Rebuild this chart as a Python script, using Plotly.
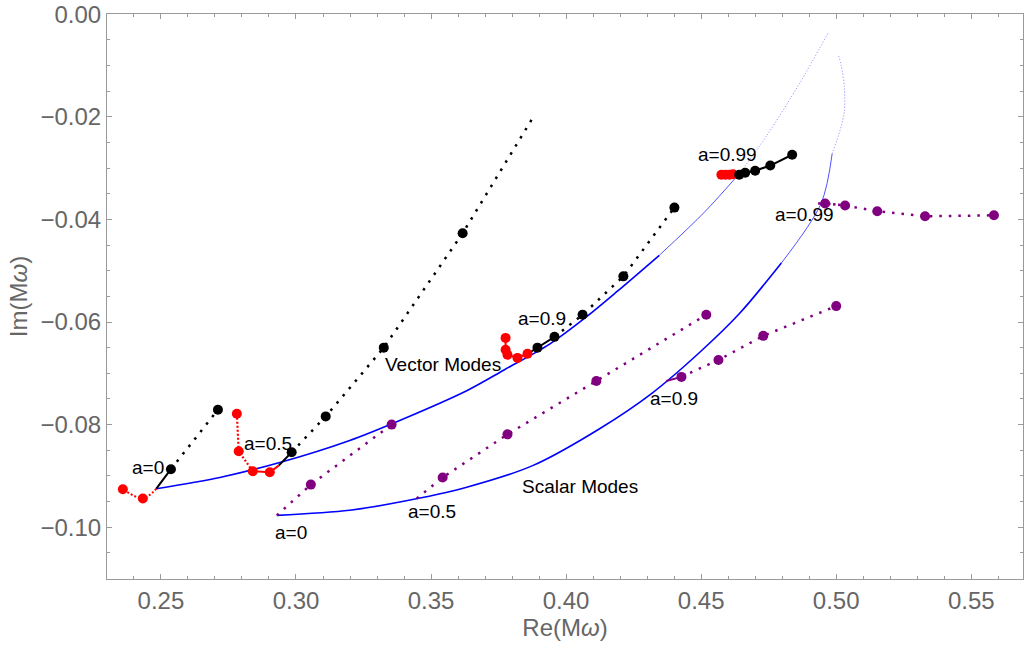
import plotly.graph_objects as go

# ---------------- data ----------------
# blue QNM trajectories (a from 0 towards 1)
vec_curve_re = [0.2483, 0.2718, 0.2940, 0.3199, 0.3384, 0.3632, 0.3772, 0.3939, 0.4075, 0.4190, 0.4345,
                0.4512, 0.4641, 0.4745, 0.4863, 0.4970]
vec_curve_im = [-0.0925, -0.0903, -0.0874, -0.0831, -0.0792, -0.0734, -0.0693, -0.0643, -0.0590, -0.0540, -0.0470,
                -0.0386, -0.0311, -0.0235, -0.0136, -0.0037]
sca_curve_re = [0.2929, 0.3199, 0.3384, 0.3632, 0.3876, 0.4124, 0.4320, 0.4493, 0.4641, 0.4797,
                0.4944, 0.4985, 0.5015, 0.5030, 0.5030, 0.5018, 0.5007]
sca_curve_im = [-0.0977, -0.0967, -0.0951, -0.0922, -0.0880, -0.0808, -0.0738, -0.0660, -0.0584, -0.0485,
                -0.0369, -0.0272, -0.0225, -0.0190, -0.0142, -0.0099, -0.0078]

# vector modes
v_a0_black_re = [0.2483, 0.2537, 0.2711]
v_a0_black_im = [-0.0925, -0.0887, -0.0771]
v_a0_red_re = [0.2483, 0.2433, 0.2359]
v_a0_red_im = [-0.0925, -0.0944, -0.0926]
v_a05_black_re = [0.2936, 0.2984, 0.3110, 0.3325, 0.3617, 0.3872]
v_a05_black_im = [-0.0880, -0.0854, -0.0784, -0.0650, -0.0427, -0.0206]
v_a05_red_re = [0.2936, 0.2903, 0.2840, 0.2788, 0.2781]
v_a05_red_im = [-0.0880, -0.0893, -0.0891, -0.0852, -0.0779]
v_a09_black_re = [0.3870, 0.3894, 0.3957, 0.4061, 0.4212, 0.4401]
v_a09_black_im = [-0.0658, -0.0650, -0.0629, -0.0586, -0.0511, -0.0377]
v_a09_red_re = [0.3870, 0.3857, 0.3820, 0.3783, 0.3776, 0.3776]
v_a09_red_im = [-0.0658, -0.0662, -0.0670, -0.0664, -0.0654, -0.0631]
v_a099_black_re = [0.4630, 0.4641, 0.4663, 0.4700, 0.4756, 0.4837]
v_a099_black_im = [-0.0312, -0.0313, -0.0309, -0.0305, -0.0295, -0.0274]
v_a099_red_re = [0.4630, 0.4618, 0.4605, 0.4590, 0.4575]
v_a099_red_im = [-0.0312, -0.0312, -0.0313, -0.0313, -0.0313]

# scalar modes
s_a0_re = [0.2929, 0.3055, 0.3354]
s_a0_im = [-0.0977, -0.0917, -0.0800]
s_a05_re = [0.3447, 0.3543, 0.3783, 0.4112, 0.4519]
s_a05_im = [-0.0944, -0.0903, -0.0819, -0.0715, -0.0586]
s_a09_re = [0.4371, 0.4427, 0.4564, 0.4730, 0.5000]
s_a09_im = [-0.0715, -0.0707, -0.0674, -0.0627, -0.0569]
s_a099_re = [0.4933, 0.4959, 0.5033, 0.5152, 0.5329, 0.5584]
s_a099_im = [-0.0369, -0.0369, -0.0373, -0.0384, -0.0394, -0.0392]

# labels
label_text = ["a=0", "a=0.5", "a=0.9", "a=0.99", "Vector Modes",
              "a=0", "a=0.5", "a=0.9", "a=0.99", "Scalar Modes"]
label_re = [0.2452, 0.2896, 0.3909, 0.4597, 0.3543,
            0.2981, 0.3502, 0.4401, 0.4882, 0.4050]
label_im = [-0.0883, -0.0837, -0.0594, -0.0274, -0.0682,
            -0.1010, -0.0969, -0.0750, -0.0390, -0.0920]

# ---------------- figure ----------------
BLUE = "#0000ff"
BLACK = "#000000"
RED = "#ff0000"
PURPLE = "#800080"
FONT = "Liberation Sans, Arial, sans-serif"

fig = go.Figure()


def add_line(x, y, color, width, dash="solid", opacity=1.0, shape="linear"):
    fig.add_trace(go.Scatter(x=x, y=y, mode="lines", opacity=opacity,
                             line=dict(color=color, width=width, dash=dash, shape=shape,
                                       smoothing=0.9 if shape == "spline" else None),
                             hoverinfo="skip", showlegend=False))


def add_dots(x, y, color, size=10):
    fig.add_trace(go.Scatter(x=x, y=y, mode="markers",
                             marker=dict(color=color, size=size, line=dict(width=0)),
                             hoverinfo="skip", showlegend=False))


# blue trajectories: solid lower part, thin/faint upper part
vs = 11
add_line(vec_curve_re[:vs], vec_curve_im[:vs], BLUE, 1.6, shape="spline")
add_line(vec_curve_re[vs - 1:13], vec_curve_im[vs - 1:13], BLUE, 0.9, opacity=0.75, shape="spline")
add_line(vec_curve_re[12:], vec_curve_im[12:], BLUE, 0.8, dash="1px,2px", opacity=0.6, shape="spline")
ss = 10
add_line(sca_curve_re[:ss], sca_curve_im[:ss], BLUE, 1.6, shape="spline")
add_line(sca_curve_re[ss - 1:12], sca_curve_im[ss - 1:12], BLUE, 0.9, opacity=0.75, shape="spline")
add_line(sca_curve_re[11:], sca_curve_im[11:], BLUE, 0.8, dash="1px,2px", opacity=0.6, shape="spline")

SPARSE = "2.5px,7px"
DENSE = "2px,2px"

# vector a=0
add_line(v_a0_black_re[:2], v_a0_black_im[:2], BLACK, 2)
add_line(v_a0_black_re[1:], v_a0_black_im[1:], BLACK, 2.5, dash=SPARSE)
add_line(v_a0_red_re, v_a0_red_im, RED, 2, dash=DENSE, shape="spline")
# vector a=0.5
add_line(v_a05_black_re[:2], v_a05_black_im[:2], BLACK, 2)
add_line(v_a05_black_re[1:], v_a05_black_im[1:], BLACK, 2.5, dash=SPARSE)
add_line(v_a05_red_re[:3], v_a05_red_im[:3], RED, 2)
add_line(v_a05_red_re[2:], v_a05_red_im[2:], RED, 2.2, dash=DENSE)
# vector a=0.9
add_line(v_a09_black_re[:3], v_a09_black_im[:3], BLACK, 2)
add_line(v_a09_black_re[2:], v_a09_black_im[2:], BLACK, 2.5, dash=SPARSE)
add_line(v_a09_red_re, v_a09_red_im, RED, 2)
# vector a=0.99
add_line(v_a099_black_re, v_a099_black_im, BLACK, 2)
add_line(v_a099_red_re, v_a099_red_im, RED, 2)

# scalar
add_line(s_a0_re, s_a0_im, PURPLE, 2.5, dash=SPARSE)
add_line(s_a05_re, s_a05_im, PURPLE, 2.5, dash=SPARSE)
add_line(s_a09_re[:2], s_a09_im[:2], PURPLE, 2)
add_line(s_a09_re[1:], s_a09_im[1:], PURPLE, 2.5, dash=SPARSE)
add_line(s_a099_re[:3], s_a099_im[:3], PURPLE, 2.5, dash="2.5px,2.5px")
add_line(s_a099_re[2:], s_a099_im[2:], PURPLE, 2.5, dash=SPARSE)

# markers (first point of each branch is the start on the blue curve, no marker)
add_dots(v_a0_red_re[1:], v_a0_red_im[1:], RED)
add_dots(v_a05_red_re[1:], v_a05_red_im[1:], RED)
add_dots(v_a09_red_re[1:], v_a09_red_im[1:], RED)
add_dots(v_a099_red_re[1:], v_a099_red_im[1:], RED)
add_dots(v_a0_black_re[1:], v_a0_black_im[1:], BLACK)
add_dots(v_a05_black_re[1:-1], v_a05_black_im[1:-1], BLACK)
add_dots(v_a09_black_re[1:], v_a09_black_im[1:], BLACK)
add_dots(v_a099_black_re[1:], v_a099_black_im[1:], BLACK)
add_dots(s_a0_re[1:], s_a0_im[1:], PURPLE)
add_dots(s_a05_re[1:], s_a05_im[1:], PURPLE)
add_dots(s_a09_re[1:], s_a09_im[1:], PURPLE)
add_dots(s_a099_re[1:], s_a099_im[1:], PURPLE)

for t, xr, yi in zip(label_text, label_re, label_im):
    fig.add_annotation(x=xr, y=yi, text=t, showarrow=False,
                       font=dict(family=FONT, size=19, color="#000000"),
                       xanchor="center", yanchor="middle")

axis_common = dict(showgrid=False, zeroline=False, showline=True, linecolor="#9a9a9a", linewidth=1,
                   mirror="ticks", ticks="inside", ticklen=5, tickcolor="#9a9a9a", tickwidth=1,
                   ticklabeloverflow="allow",
                   tickfont=dict(family=FONT, size=24, color="#666666"),
                   title_font=dict(family=FONT, size=24, color="#666666"))

fig.update_xaxes(range=[0.23003, 0.56916], tick0=0.25, dtick=0.05, tickformat=".2f",
                 minor=dict(dtick=0.01, ticks="inside", ticklen=3, tickcolor="#9a9a9a"),
                 title_text="Re(M<i>ω</i>)", title_standoff=4, **axis_common)
fig.update_yaxes(range=[-0.1101, 0.00004], tick0=0.0, dtick=0.02, tickformat=".2f",
                 minor=dict(dtick=0.005, ticks="inside", ticklen=3, tickcolor="#9a9a9a"),
                 title_text="Im(M<i>ω</i>)", title_standoff=6, **axis_common)

fig.update_layout(width=1025, height=651, margin=dict(l=107, r=1, t=12, b=72),
                  plot_bgcolor="white", paper_bgcolor="white", showlegend=False)

fig.write_html("out.html", config={"displayModeBar": False},
               post_script="document.body.style.margin='0';document.body.style.overflow='hidden';")
